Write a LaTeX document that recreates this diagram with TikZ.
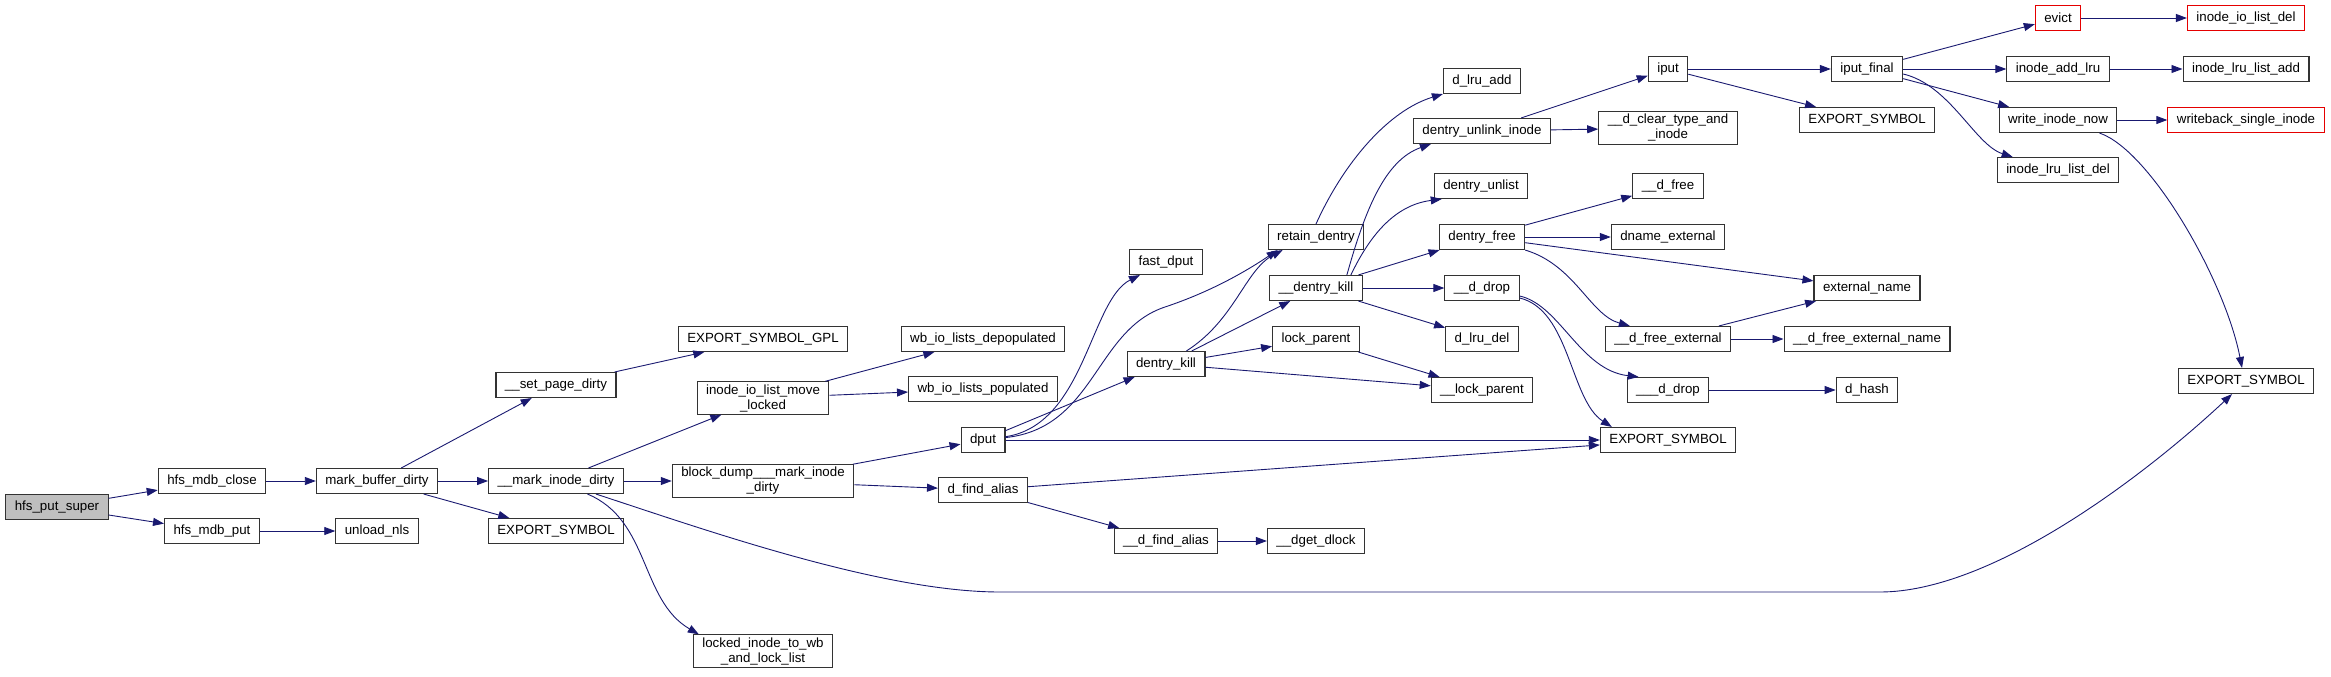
\documentclass[tikz,border=0pt]{standalone}
\usepackage{fontspec}
\setmainfont{Liberation Sans}
\usepackage{tikz}
\usetikzlibrary{arrows.meta}
\definecolor{navy}{HTML}{191970}
\definecolor{rootgray}{HTML}{BFBFBF}
\newcommand{\fnfont}{\fontsize{13.3}{15}\selectfont}

\begin{document}
\begin{tikzpicture}[
  x=1pt, y=-1pt,
  fn/.style={draw=black!80, line width=1.1pt, fill=#1, minimum height=25pt, inner xsep=9pt, inner ysep=2.5pt, align=center, font=\fnfont},
  fn/.default=white,
  lost/.style={fn, draw=red!90!black},
  call/.style={-{Triangle[length=11pt, width=8pt]}, navy, line width=0.9pt},
]
\useasboundingbox (0,0) rectangle (2331,677);

% Functions
\node[fn=rootgray] (hps) at (57,507) {hfs\_put\_super};
\node[fn] (mdbclose) at (212,481) {hfs\_mdb\_close};
\node[fn] (mdbput) at (212,531) {hfs\_mdb\_put};
\node[fn] (mbd) at (377,481) {mark\_buffer\_dirty};
\node[fn] (unloadnls) at (377,531) {unload\_nls};
\node[fn] (setpage) at (556,385) {\_\_set\_page\_dirty};
\node[fn] (markinode) at (556,481) {\_\_mark\_inode\_dirty};
\node[fn] (esA) at (556,531) {EXPORT\_SYMBOL};
\node[fn] (esgpl) at (763,339) {EXPORT\_SYMBOL\_GPL};
\node[fn] (iolmove) at (763,398) {inode\_io\_list\_move\\\_locked};
\node[fn] (blockdump) at (763,481) {block\_dump\_\_\_mark\_inode\\\_dirty};
\node[fn] (lockedwb) at (763,651) {locked\_inode\_to\_wb\\\_and\_lock\_list};
\node[fn] (depop) at (983,339) {wb\_io\_lists\_depopulated};
\node[fn] (pop) at (983,389) {wb\_io\_lists\_populated};
\node[fn] (dput) at (983,440) {dput};
\node[fn] (findalias) at (983,490) {d\_find\_alias};
\node[fn] (fastdput) at (1166,262) {fast\_dput};
\node[fn] (dentrykill) at (1166,364) {dentry\_kill};
\node[fn] (findaliasB) at (1166,541) {\_\_d\_find\_alias};
\node[fn] (retain) at (1316,237) {retain\_dentry};
\node[fn] (dkill) at (1316,288) {\_\_dentry\_kill};
\node[fn] (lockparent) at (1316,339) {lock\_parent};
\node[fn] (dgetdlock) at (1316,541) {\_\_dget\_dlock};
\node[fn] (dlruadd) at (1482,81) {d\_lru\_add};
\node[fn] (unlinkinode) at (1482,131) {dentry\_unlink\_inode};
\node[fn] (unlist) at (1481,186) {dentry\_unlist};
\node[fn] (dentryfree) at (1482,237) {dentry\_free};
\node[fn] (ddrop) at (1482,288) {\_\_d\_drop};
\node[fn] (dlrudel) at (1482,339) {d\_lru\_del};
\node[fn] (lockparentB) at (1482,390) {\_\_lock\_parent};
\node[fn] (iput) at (1668,69) {iput};
\node[fn] (cleartype) at (1668,128) {\_\_d\_clear\_type\_and\\\_inode};
\node[fn] (dfree) at (1668,186) {\_\_d\_free};
\node[fn] (dnameext) at (1668,237) {dname\_external};
\node[fn] (dfreeext) at (1668,339) {\_\_d\_free\_external};
\node[fn] (ddropB) at (1668,390) {\_\_\_d\_drop};
\node[fn] (esB) at (1668,440) {EXPORT\_SYMBOL};
\node[fn] (ifinal) at (1867,69) {iput\_final};
\node[fn] (esC) at (1867,120) {EXPORT\_SYMBOL};
\node[fn] (extname) at (1867,288) {external\_name};
\node[fn] (dfreeextname) at (1867,339) {\_\_d\_free\_external\_name};
\node[fn] (dhash) at (1867,390) {d\_hash};
\node[lost] (evict) at (2058,18) {evict};
\node[fn] (addlru) at (2058,69) {inode\_add\_lru};
\node[fn] (writenow) at (2058,120) {write\_inode\_now};
\node[fn] (lrulistdel) at (2058,170) {inode\_lru\_list\_del};
\node[lost] (iolistdel) at (2246,18) {inode\_io\_list\_del};
\node[fn] (lrulistadd) at (2246,69) {inode\_lru\_list\_add};
\node[lost] (writeback) at (2246,120) {writeback\_single\_inode};
\node[fn] (esD) at (2246,381) {EXPORT\_SYMBOL};

% Calls
\draw[call] (hps) -- (mdbclose);
\draw[call] (hps) -- (mdbput);
\draw[call] (mdbclose) -- (mbd);
\draw[call] (mdbput) -- (unloadnls);
\draw[call] (mbd) -- (setpage);
\draw[call] (mbd) -- (markinode);
\draw[call] (mbd) -- (esA);
\draw[call] (setpage) -- (esgpl);
\draw[call] (markinode) -- (iolmove);
\draw[call] (markinode) -- (blockdump);
\draw[call] (markinode) .. controls (650,520) and (640,600) .. ([xshift=6pt]lockedwb.north west);
\draw[call] (markinode) .. controls (700,528) and (880,592) .. (1000,592) -- (1880,592)
  .. controls (1990,592) and (2140,480) .. (esD);
\draw[call] (iolmove) -- (depop);
\draw[call] (iolmove) -- (pop);
\draw[call] (blockdump) -- (dput);
\draw[call] (blockdump) -- (findalias);
\draw[call] (dput) .. controls (1085,425) and (1090,300) .. (fastdput);
\draw[call] (dput) .. controls (1095,428) and (1095,330) .. (1165,307)
  .. controls (1210,292) and (1245,272) .. ([xshift=10pt]retain.south west);
\draw[call] (dput) -- (dentrykill);
\draw[call] (dput) -- (esB);
\draw[call] (findalias) -- (esB);
\draw[call] (findalias) -- (findaliasB);
\draw[call] (findaliasB) -- (dgetdlock);
\draw[call] (dentrykill) .. controls (1235,320) and (1245,270) .. ([xshift=15pt]retain.south west);
\draw[call] (dentrykill) -- (dkill);
\draw[call] (dentrykill) -- (lockparent);
\draw[call] (dentrykill) -- (lockparentB);
\draw[call] (lockparent) -- (lockparentB);
\draw[call] (retain.north) .. controls (1345,160) and (1390,110) .. (dlruadd.south west);
\draw[call] ([xshift=-16pt]dkill.north east) .. controls (1365,210) and (1385,160) .. ([xshift=18pt]unlinkinode.south west);
\draw[call] ([xshift=-12pt]dkill.north east) .. controls (1370,235) and (1395,205) .. ([xshift=8pt]unlist.south west);
\draw[call] (dkill) -- (dentryfree);
\draw[call] (dkill) -- (ddrop);
\draw[call] (dkill) -- (dlrudel);
\draw[call] (unlinkinode) -- (iput);
\draw[call] (unlinkinode) -- (cleartype);
\draw[call] (dentryfree) -- (dfree);
\draw[call] (dentryfree) -- (dnameext);
\draw[call] (dentryfree) -- (extname);
\draw[call] (dentryfree.south east) .. controls (1575,265) and (1590,315) .. ([xshift=25pt]dfreeext.north west);
\draw[call] ([yshift=-8pt]ddrop.east) .. controls (1560,305) and (1580,370) .. ([xshift=12pt]ddropB.north west);
\draw[call] ([yshift=-10pt]ddrop.east) .. controls (1570,310) and (1570,400) .. ([xshift=12pt]esB.north west);
\draw[call] (dfreeext) -- (extname);
\draw[call] (dfreeext) -- (dfreeextname);
\draw[call] (ddropB) -- (dhash);
\draw[call] (iput) -- (ifinal);
\draw[call] (iput) -- (esC);
\draw[call] (ifinal) -- (evict);
\draw[call] (ifinal) -- (addlru);
\draw[call] (ifinal) -- (writenow);
\draw[call] ([yshift=-5pt]ifinal.east) .. controls (1950,85) and (1975,145) .. ([xshift=16pt]lrulistdel.north west);
\draw[call] (evict) -- (iolistdel);
\draw[call] (addlru) -- (lrulistadd);
\draw[call] (writenow) -- (writeback);
\draw[call] ([xshift=-18pt]writenow.south east) .. controls (2150,150) and (2225,280) .. ([xshift=-4pt]esD.north);

\end{tikzpicture}
\end{document}
